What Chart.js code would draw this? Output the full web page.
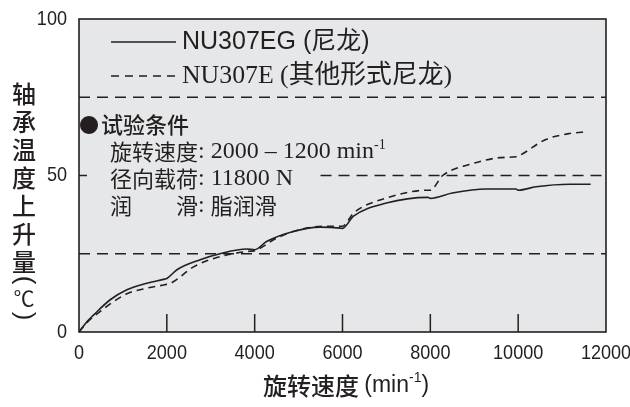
<!DOCTYPE html>
<html lang="zh">
<head>
    <meta charset="UTF-8">
    <title>轴承温度上升量</title>
    <script src="https://cdn.jsdelivr.net/npm/chart.js"></script>
    <style>
        body { margin: 0; background: #fff; }
        .wrap { width: 630px; height: 407px; }
    </style>
</head>
<body>
    <div class="wrap"><canvas id="chart" width="630" height="407"></canvas></div>

    <script>
        // values
        const xTicks = [0, 2000, 4000, 6000, 8000, 10000, 12000];
        const yTicks = [0, 50, 100];

        const egRpm  = [0, 180, 330, 710, 1090, 1545, 1950, 2000, 2230, 2760, 3210, 3820, 4000, 4270, 4880, 5490, 5950, 6000, 6250, 7000, 7950, 8000, 8500, 9270, 9950, 10000, 10410, 11170, 11650];
        const egTemp = [0, 3.3, 5.4, 10.3, 13.5, 15.6, 16.9, 17.1, 19.9, 23.1, 25.0, 26.5, 26.3, 28.9, 32.1, 33.5, 33.2, 33.1, 37.0, 41.2, 43.0, 42.7, 44.4, 45.7, 45.7, 45.3, 46.4, 47.2, 47.2];

        const eRpm  = [0, 180, 330, 1090, 1545, 1950, 2090, 2620, 3210, 3820, 4000, 4500, 5030, 5640, 5950, 6000, 6250, 7000, 7950, 8000, 8280, 8890, 9580, 9950, 10000, 10630, 11170, 11590];
        const eTemp = [0, 3.0, 4.9, 12.2, 14.0, 15.1, 15.6, 20.9, 24.1, 25.7, 26.0, 30.0, 32.7, 33.8, 33.8, 33.8, 38.0, 42.8, 45.3, 45.3, 50.0, 53.5, 55.7, 56.0, 56.2, 61.5, 63.4, 64.0];

        const dashedLevels = [25, 50, 75];

        const ink = '#231f20';
        const numFont = '"Liberation Sans", Arial, sans-serif';
        const cjk = '"Noto Sans CJK SC", sans-serif';
        const sans = '"Liberation Sans", "Noto Sans CJK SC", sans-serif';
        const serif = '"Liberation Serif", "Noto Sans CJK SC", serif';

        const toPoints = (xs, ys) => xs.map((x, i) => ({ x: x, y: ys[i] }));

        // draw a row of [text, font, raise] pieces left to right
        function pieces(ctx, list, x, y) {
            list.forEach(p => {
                ctx.font = p[1];
                ctx.fillText(p[0], x, y - (p[2] || 0));
                x += ctx.measureText(p[0]).width;
            });
            return x;
        }
        function piecesWidth(ctx, list) {
            return list.reduce((w, p) => { ctx.font = p[1]; return w + ctx.measureText(p[0]).width; }, 0);
        }
        // narrow digits, like the condensed face in the original
        function narrow(ctx, txt, x, y) {
            ctx.fillText(txt, x, y, ctx.measureText(txt).width * 0.86);
        }

        const decor = {
            id: 'decor',
            beforeDraw(chart) {
                const { ctx, chartArea: a } = chart;
                ctx.save();
                ctx.fillStyle = '#e6e7e8';
                ctx.fillRect(a.left, a.top, a.right - a.left, a.bottom - a.top);
                ctx.restore();
            },
            beforeDatasetsDraw(chart) {
                const { ctx, chartArea: a, scales } = chart;
                ctx.save();
                ctx.strokeStyle = ink;
                ctx.lineWidth = 1.5;
                ctx.setLineDash([11, 7]);
                dashedLevels.forEach(v => {
                    const y = scales.y.getPixelForValue(v);
                    const x0 = v === 50 ? scales.x.getPixelForValue(5500) : a.left;
                    ctx.beginPath();
                    ctx.moveTo(x0, y);
                    ctx.lineTo(a.right, y);
                    ctx.stroke();
                });
                ctx.setLineDash([]);
                // inner tick marks
                xTicks.slice(1, -1).forEach(v => {
                    const x = scales.x.getPixelForValue(v);
                    ctx.beginPath();
                    ctx.moveTo(x, a.bottom);
                    ctx.lineTo(x, a.bottom - 18);
                    ctx.stroke();
                });
                const y50 = scales.y.getPixelForValue(50);
                ctx.beginPath();
                ctx.moveTo(a.left, y50);
                ctx.lineTo(a.left + 8, y50);
                ctx.stroke();
                ctx.restore();
            },
            afterDraw(chart) {
                const { ctx, chartArea: a, scales } = chart;
                ctx.save();
                ctx.strokeStyle = ink;
                ctx.lineWidth = 1.6;
                ctx.strokeRect(a.left, a.top, a.right - a.left, a.bottom - a.top);
                ctx.fillStyle = ink;

                // tick labels from the scales
                ctx.font = '21px ' + numFont;
                ctx.textBaseline = 'middle';
                ctx.textAlign = 'center';
                xTicks.forEach(v => narrow(ctx, String(v), scales.x.getPixelForValue(v), a.bottom + 21));
                ctx.textAlign = 'right';
                yTicks.forEach(v => narrow(ctx, String(v), a.left - 12, scales.y.getPixelForValue(v)));

                // legend
                ctx.lineWidth = 1.5;
                ctx.beginPath();
                ctx.moveTo(111, 42);
                ctx.lineTo(176, 42);
                ctx.stroke();
                ctx.setLineDash([8, 6]);
                ctx.beginPath();
                ctx.moveTo(111, 76);
                ctx.lineTo(178, 76);
                ctx.stroke();
                ctx.setLineDash([]);
                ctx.textAlign = 'left';
                ctx.font = '25px ' + sans;
                ctx.fillText('NU307EG (尼龙)', 182, 42, 198);
                ctx.font = '26px ' + serif;
                ctx.fillText('NU307E (其他形式尼龙)', 182, 76, 270);

                // test conditions
                ctx.font = '20px ' + cjk;
                ctx.fillText('●', 79, 125);
                ctx.font = '500 22px ' + cjk;
                ctx.fillText('试验条件', 101, 125);
                const zh = '22px ' + cjk;
                const lat = '24px "Liberation Serif", serif';
                pieces(ctx, [['旋转速度', zh], [': 2000 – 1200 min', lat], ['-1', '14px "Liberation Serif", serif', 7]], 110, 152);
                pieces(ctx, [['径向载荷', zh], [': 11800 N', lat]], 110, 179);
                pieces(ctx, [['润', zh]], 110, 206);
                pieces(ctx, [['滑', zh], [': ', lat], ['脂润滑', zh]], 176, 206);

                // y title, one glyph per line
                ctx.textAlign = 'center';
                ctx.font = '500 24px ' + cjk;
                const chars = ['轴', '承', '温', '度', '上', '升', '量'];
                const ys = [94, 122, 150, 178, 206, 234, 262];
                chars.forEach((c, i) => ctx.fillText(c, 24, ys[i]));
                ctx.font = '26px ' + sans;
                [['(', 280], [')', 316]].forEach(p => {
                    ctx.save();
                    ctx.translate(24, p[1]);
                    ctx.rotate(Math.PI / 2);
                    ctx.fillText(p[0], 0, 0);
                    ctx.restore();
                });
                ctx.font = '21px ' + cjk;
                ctx.fillText('℃', 24, 298);

                // x title
                ctx.textAlign = 'left';
                const xt = [['旋转速度 ', '500 24px ' + cjk], ['(min', '23px ' + sans], ['-1', '14px ' + sans, 8], [')', '23px ' + sans]];
                const w = piecesWidth(ctx, xt);
                pieces(ctx, xt, 346 - w / 2, 386);
                ctx.restore();
            }
        };

        new Chart(document.getElementById('chart'), {
            type: 'line',
            data: {
                datasets: [
                    {
                        label: 'NU307EG (尼龙)',
                        data: toPoints(egRpm, egTemp),
                        borderColor: ink,
                        borderWidth: 1.6,
                        pointRadius: 0,
                        cubicInterpolationMode: 'monotone',
                        fill: false
                    },
                    {
                        label: 'NU307E (其他形式尼龙)',
                        data: toPoints(eRpm, eTemp),
                        borderColor: ink,
                        borderWidth: 1.6,
                        borderDash: [7, 5],
                        pointRadius: 0,
                        cubicInterpolationMode: 'monotone',
                        fill: false
                    }
                ]
            },
            options: {
                responsive: false,
                animation: false,
                layout: { padding: { top: 19, right: 24, left: 0, bottom: 0 } },
                plugins: {
                    legend: { display: false },
                    tooltip: { enabled: false }
                },
                scales: {
                    x: {
                        type: 'linear',
                        min: 0,
                        max: 12000,
                        afterBuildTicks: s => { s.ticks = xTicks.map(v => ({ value: v })); },
                        afterFit: s => { s.height = 75; s.paddingLeft = 0; s.paddingRight = 0; },
                        grid: { display: false, drawTicks: false },
                        border: { display: false },
                        ticks: { display: false }
                    },
                    y: {
                        min: 0,
                        max: 100,
                        afterBuildTicks: s => { s.ticks = yTicks.map(v => ({ value: v })); },
                        afterFit: s => { s.width = 79; s.paddingTop = 0; s.paddingBottom = 0; },
                        grid: { display: false, drawTicks: false },
                        border: { display: false },
                        ticks: { display: false }
                    }
                }
            },
            plugins: [decor]
        });
    </script>
</body>
</html>
